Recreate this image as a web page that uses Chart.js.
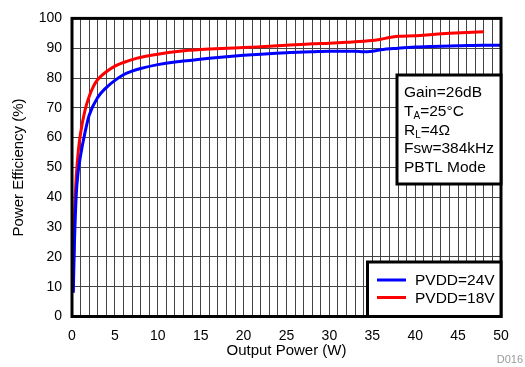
<!DOCTYPE html>
<html>
<head>
<meta charset="utf-8">
<script src="https://cdn.jsdelivr.net/npm/chart.js@4"></script>
<style>
  body { margin: 0; background: #fff; }
  canvas { display: block; }
</style>
</head>
<body>
<canvas id="eff" width="525" height="367"></canvas>
<script>
// PVDD = 24V curve
const pvdd24Power = [0.15, 0.3, 0.5, 0.7, 1, 1.5, 2, 3, 4, 5, 6, 7, 8, 10, 12, 14, 16, 18, 20, 22, 25, 28, 30, 33, 34, 35, 36, 38, 40, 42, 45, 48, 50];
const pvdd24Eff = [8, 26, 41, 48, 54, 61.5, 67.5, 73.5, 76.8, 79.2, 81.1, 82.3, 83.2, 84.5, 85.4, 86, 86.6, 87.1, 87.6, 88, 88.5, 88.8, 89, 89, 88.8, 89, 89.5, 90, 90.4, 90.6, 90.8, 91, 91];

// PVDD = 18V curve
const pvdd18Power = [0.1, 0.3, 0.5, 0.75, 1, 1.5, 2, 2.5, 3, 4, 5, 6, 7.5, 10, 12.5, 15, 18, 20, 22, 25, 28, 30, 32, 35, 36, 37, 38, 40, 42, 44, 46, 48];
const pvdd18Eff = [8, 35, 47, 56, 61.5, 69, 73.8, 77.2, 79.5, 82.1, 84, 85.2, 86.6, 88, 89, 89.6, 90, 90.2, 90.5, 91, 91.5, 91.7, 92, 92.6, 93, 93.6, 94, 94.2, 94.6, 95, 95.3, 95.5];

const seriesLabels = ['PVDD=24V', 'PVDD=18V'];
const seriesColors = ['#0000ff', '#ff0000'];

// condition box lines, each split into normal / subscript runs
const conditionLines = [
  [['Gain=26dB']],
  [['T'], ['A', 'sub'], ['=25°C']],
  [['R'], ['L', 'sub'], ['=4Ω']],
  [['Fsw=384kHz']],
  [['PBTL Mode']],
];

const FONT = 'Liberation Sans, Arial, sans-serif';

const toPoints = (xs, ys) => xs.map((x, i) => ({ x, y: ys[i] }));

const boxesPlugin = {
  id: 'boxes',
  afterDatasetsDraw(chart) {
    const { ctx, chartArea: a } = chart;
    ctx.save();

    // frame round the plot
    ctx.strokeStyle = '#000';
    ctx.lineWidth = 3;
    ctx.strokeRect(a.left, a.top, a.right - a.left, a.bottom - a.top);

    // test conditions box
    const cx = 397, cy = 75, cw = a.right - cx, ch = 109;
    ctx.fillStyle = '#fff';
    ctx.fillRect(cx, cy, cw, ch);
    ctx.strokeRect(cx, cy, cw, ch);
    ctx.fillStyle = '#000';
    ctx.textBaseline = 'alphabetic';
    conditionLines.forEach((runs, i) => {
      let x = 404;
      const y = 97 + i * 18.8;
      runs.forEach(([t, kind]) => {
        if (kind === 'sub') {
          ctx.font = '10px ' + FONT;
          ctx.fillText(t, x, y + 3);
        } else {
          ctx.font = '15.5px ' + FONT;
          ctx.fillText(t, x, y);
        }
        x += ctx.measureText(t).width;
      });
    });

    // legend box
    const lx = 367.5, ly = 262, lw = a.right - lx, lh = a.bottom - ly;
    ctx.fillStyle = '#fff';
    ctx.fillRect(lx, ly, lw, lh);
    ctx.strokeRect(lx, ly, lw, lh);
    ctx.font = '15.5px ' + FONT;
    ctx.textBaseline = 'middle';
    chart.data.datasets.forEach((ds, i) => {
      const y = 280 + i * 17.5;
      ctx.strokeStyle = ds.borderColor;
      ctx.lineWidth = 3;
      ctx.beginPath();
      ctx.moveTo(377, y);
      ctx.lineTo(406, y);
      ctx.stroke();
      ctx.fillStyle = '#000';
      ctx.fillText(ds.label, 415, y + 1);
    });

    // figure id
    ctx.font = '11px ' + FONT;
    ctx.fillStyle = '#9a9a9a';
    ctx.textAlign = 'right';
    ctx.fillText('D016', 523, 360);
    ctx.restore();
  },
};

new Chart(document.getElementById('eff'), {
  type: 'line',
  data: {
    datasets: [
      {
        label: seriesLabels[0],
        data: toPoints(pvdd24Power, pvdd24Eff),
        borderColor: seriesColors[0],
        borderWidth: 3,
        pointRadius: 0,
        cubicInterpolationMode: 'monotone',
        fill: false,
      },
      {
        label: seriesLabels[1],
        data: toPoints(pvdd18Power, pvdd18Eff),
        borderColor: seriesColors[1],
        borderWidth: 3,
        pointRadius: 0,
        cubicInterpolationMode: 'monotone',
        fill: false,
      },
    ],
  },
  options: {
    responsive: false,
    animation: false,
    layout: { padding: { left: 0, top: 13, right: 24, bottom: 0 } },
    plugins: { legend: { display: false }, tooltip: { enabled: false } },
    scales: {
      x: {
        type: 'linear',
        min: 0,
        max: 50,
        afterFit: (s) => { s.height = 50.5; },
        grid: { color: '#444', lineWidth: 1, drawTicks: false },
        border: { display: false },
        ticks: {
          stepSize: 1,
          autoSkip: false,
          maxRotation: 0,
          padding: 11,
          color: '#000',
          font: { family: FONT, size: 14 },
          callback: (v) => (v % 5 === 0 ? v : ''),
        },
        title: {
          display: true,
          text: 'Output Power (W)',
          color: '#000',
          font: { family: FONT, size: 15 },
          padding: { top: 0, bottom: 7 },
        },
      },
      y: {
        min: 0,
        max: 100,
        afterFit: (s) => { s.width = 72; },
        grid: { color: '#444', lineWidth: 1, drawTicks: false },
        border: { display: false },
        ticks: {
          stepSize: 10,
          padding: 10,
          color: '#000',
          font: { family: FONT, size: 14 },
        },
        title: {
          display: true,
          text: 'Power Efficiency (%)',
          color: '#000',
          font: { family: FONT, size: 15 },
          padding: { top: 10, bottom: 0 },
        },
      },
    },
  },
  plugins: [boxesPlugin],
});
</script>
</body>
</html>
